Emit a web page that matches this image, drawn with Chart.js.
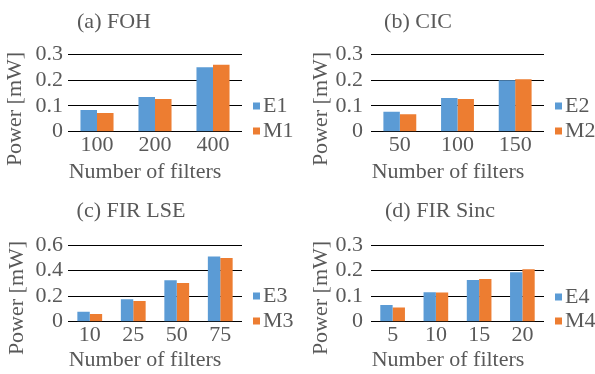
<!DOCTYPE html>
<html>
<head>
<meta charset="utf-8">
<script src="https://cdn.jsdelivr.net/npm/chart.js@4.4.1/dist/chart.umd.min.js"></script>
<style>
  body { margin: 0; background: #fff; width: 595px; height: 374px; position: relative; overflow: hidden; font-family: "Liberation Serif", serif; }
  canvas { position: absolute; }
  .probe { position: absolute; left: -999px; top: 0; font-size: 22px; }
</style>
</head>
<body>
<span class="probe">(a) FOH 0.1 Number of filters</span>
<canvas id="chart-a" width="297" height="187" style="left:0;top:0"></canvas>
<canvas id="chart-b" width="298" height="187" style="left:297px;top:0"></canvas>
<canvas id="chart-c" width="297" height="187" style="left:0;top:187px"></canvas>
<canvas id="chart-d" width="298" height="187" style="left:297px;top:187px"></canvas>
<script>
// (a) FOH
const foh_filters = ['100', '200', '400'];
const foh_e1 = [0.084, 0.135, 0.250];
const foh_m1 = [0.073, 0.127, 0.260];
// (b) CIC
const cic_filters = ['50', '100', '150'];
const cic_e2 = [0.078, 0.131, 0.200];
const cic_m2 = [0.068, 0.127, 0.204];
// (c) FIR LSE
const lse_filters = ['10', '25', '50', '75'];
const lse_e3 = [0.078, 0.175, 0.324, 0.511];
const lse_m3 = [0.060, 0.162, 0.303, 0.498];
// (d) FIR Sinc
const sinc_filters = ['5', '10', '15', '20'];
const sinc_e4 = [0.065, 0.115, 0.163, 0.193];
const sinc_m4 = [0.056, 0.114, 0.167, 0.205];

const blue = '#5B9BD5';
const orange = '#ED7D31';
const textColor = '#595959';
const font = { family: "'Liberation Serif', 'Times New Roman', Times, serif", size: 22 };
Chart.defaults.font.family = font.family;

// titles, axis titles and legend drawn at Excel-like spots
const panelText = {
    id: 'panelText',
    afterDraw(chart, args, o) {
        const ctx = chart.ctx;
        ctx.save();
        ctx.font = '22px ' + font.family;
        ctx.fillStyle = textColor;
        ctx.textAlign = 'center';
        ctx.textBaseline = 'middle';
        ctx.fillText(o.title, o.titleX, o.titleY);
        ctx.fillText('Number of filters', o.xTitleX, o.xTitleY);
        ctx.save();
        ctx.translate(o.yTitleX, o.yTitleY);
        ctx.rotate(-Math.PI / 2);
        ctx.fillText('Power [mW]', 0, 0);
        ctx.restore();
        chart.data.datasets.forEach((ds, i) => {
            const y = o.legendY + i * o.legendGap;
            ctx.fillStyle = ds.backgroundColor;
            ctx.fillRect(o.legendX, y - 3.5, 7, 7);
            ctx.fillStyle = textColor;
            ctx.textAlign = 'left';
            ctx.fillText(ds.label, o.legendX + 10, y);
        });
        ctx.restore();
    }
};

function makeChart(id, origin, area, labels, e, m, names, yMax, yStep, tickPad, txt) {
    const [ox, oy] = origin;
    const canvas = document.getElementById(id);
    const yWidth = 40;
    new Chart(canvas, {
        type: 'bar',
        data: {
            labels: labels,
            datasets: [
                { label: names[0], data: e, backgroundColor: blue, categoryPercentage: 0.57, barPercentage: 1 },
                { label: names[1], data: m, backgroundColor: orange, categoryPercentage: 0.57, barPercentage: 1 }
            ]
        },
        options: {
            responsive: false,
            animation: false,
            layout: {
                padding: {
                    left: area[0] - ox - yWidth,
                    top: area[1] - oy,
                    right: ox + canvas.width - area[2],
                    bottom: 0
                }
            },
            plugins: {
                legend: { display: false },
                title: { display: false },
                tooltip: { enabled: false },
                panelText: {
                    title: txt.title,
                    titleX: txt.titleX - ox, titleY: txt.titleY - oy,
                    xTitleX: txt.xTitleX - ox, xTitleY: txt.xTitleY - oy,
                    yTitleX: txt.yTitleX - ox, yTitleY: txt.yTitleY - oy,
                    legendX: txt.legendX - ox, legendY: txt.legendY - oy, legendGap: txt.legendGap
                }
            },
            scales: {
                x: {
                    grid: { display: false, drawTicks: false },
                    border: { display: false },
                    ticks: { color: textColor, font: font, padding: 0, maxRotation: 0, autoSkip: false },
                    afterFit: s => { s.height = oy + canvas.height - area[3]; }
                },
                y: {
                    min: 0,
                    max: yMax,
                    ticks: { stepSize: yStep, color: textColor, font: font, padding: tickPad, autoSkip: false },
                    grid: { color: '#000', lineWidth: 1, drawTicks: false },
                    border: { display: false },
                    afterFit: s => { s.width = yWidth; }
                }
            }
        },
        plugins: [panelText]
    });
}

function drawAll() {
    makeChart('chart-a', [0, 0], [68, 54.5, 242, 131.7], foh_filters, foh_e1, foh_m1, ['E1', 'M1'], 0.3, 0.1, 5,
        { title: '(a) FOH', titleX: 114, titleY: 22, xTitleX: 145, xTitleY: 172, yTitleX: 15, yTitleY: 109, legendX: 253, legendY: 106, legendGap: 25 });
    makeChart('chart-b', [297, 0], [371, 54.5, 544, 131.7], cic_filters, cic_e2, cic_m2, ['E2', 'M2'], 0.3, 0.1, 8,
        { title: '(b) CIC', titleX: 418, titleY: 22, xTitleX: 448, xTitleY: 172, yTitleX: 321, yTitleY: 109, legendX: 555, legendY: 106, legendGap: 25 });
    makeChart('chart-c', [0, 187], [68, 245, 242, 321.7], lse_filters, lse_e3, lse_m3, ['E3', 'M3'], 0.6, 0.2, 5,
        { title: '(c) FIR LSE', titleX: 131, titleY: 211, xTitleX: 145, xTitleY: 360, yTitleX: 17, yTitleY: 298, legendX: 253, legendY: 296, legendGap: 25 });
    makeChart('chart-d', [297, 187], [371, 245, 544, 321.7], sinc_filters, sinc_e4, sinc_m4, ['E4', 'M4'], 0.3, 0.1, 8,
        { title: '(d) FIR Sinc', titleX: 440, titleY: 211, xTitleX: 448, xTitleY: 360, yTitleX: 321, yTitleY: 298, legendX: 555, legendY: 297, legendGap: 24 });
}

document.fonts.load("22px 'Liberation Serif'").then(drawAll, drawAll);
</script>
</body>
</html>
